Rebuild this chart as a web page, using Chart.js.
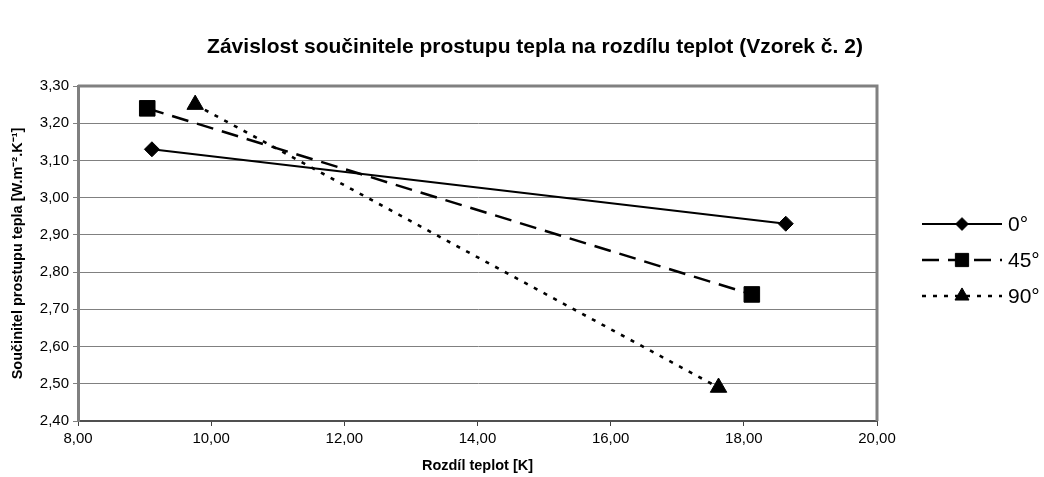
<!DOCTYPE html>
<html>
<head>
<meta charset="utf-8">
<script src="https://cdn.jsdelivr.net/npm/chart.js@4.4.1/dist/chart.umd.min.js"></script>
<style>
  html, body { margin: 0; padding: 0; background: #fff; }
  #wrap { width: 1044px; height: 477px; position: relative; }
</style>
</head>
<body>
<div id="wrap"><canvas id="c"></canvas></div>
<script>
// Heat transfer coefficient vs. temperature difference, sample 2
const seriesNames = ['0°', '45°', '90°'];
const dT0  = [9.11, 18.63];
const k0   = [3.13, 2.93];
const dT45 = [9.04, 18.12];
const k45  = [3.24, 2.74];
const dT90 = [9.76, 17.62];
const k90  = [3.25, 2.49];
const xTicks = [8, 10, 12, 14, 16, 18, 20];
const yTicks = [2.4, 2.5, 2.6, 2.7, 2.8, 2.9, 3.0, 3.1, 3.2, 3.3];
const chartTitle = 'Závislost součinitele prostupu tepla na rozdílu teplot (Vzorek č. 2)';

const FONT = "'Liberation Sans', Arial, sans-serif";
const fmt = v => Number(v).toFixed(2).replace('.', ',');
const pts = (xs, ys) => xs.map((x, i) => ({ x, y: ys[i] }));

const styles = [
  { dash: [], width: 2, point: 'rectRot', radius: 7.5 },
  { dash: [17, 9], width: 2.5, point: 'rect', radius: 11 },
  { dash: [4, 7], width: 2.6, point: 'triangle', radius: 9.5 }
];

const datasets = [pts(dT0, k0), pts(dT45, k45), pts(dT90, k90)].map((d, i) => ({
  label: seriesNames[i],
  data: d,
  showLine: true,
  borderColor: '#000',
  backgroundColor: '#000',
  borderWidth: styles[i].width,
  borderDash: styles[i].dash,
  pointStyle: styles[i].point,
  pointRadius: styles[i].radius,
  pointHoverRadius: styles[i].radius,
  pointBorderWidth: 1,
  pointBorderColor: '#000',
  pointBackgroundColor: '#000'
}));

// chart title and grey frame around the plot area
const frame = {
  id: 'frame',
  beforeDatasetsDraw(chart) {
    const { ctx, chartArea: a } = chart;
    ctx.save();
    ctx.strokeStyle = '#808080';
    ctx.lineWidth = 3;
    ctx.beginPath();
    ctx.moveTo(a.left, a.top);
    ctx.lineTo(a.right, a.top);
    ctx.lineTo(a.right, a.bottom);
    ctx.stroke();
    ctx.fillStyle = '#000';
    ctx.font = 'bold 21px ' + FONT;
    ctx.textAlign = 'center';
    ctx.textBaseline = 'middle';
    ctx.fillText(chartTitle, 535, 47);
    ctx.restore();
  }
};

// legend on the right: line sample with marker in the middle
const sideLegend = {
  id: 'sideLegend',
  afterDraw(chart) {
    const { ctx } = chart;
    const x0 = 922, x1 = 1002, rows = [224, 260, 296];
    ctx.save();
    chart.data.datasets.forEach((ds, i) => {
      const y = rows[i];
      ctx.strokeStyle = '#000';
      ctx.fillStyle = '#000';
      ctx.lineWidth = ds.borderWidth;
      ctx.setLineDash(ds.borderDash);
      ctx.beginPath();
      ctx.moveTo(x0, y);
      ctx.lineTo(x1, y);
      ctx.stroke();
      ctx.setLineDash([]);
      ctx.lineWidth = 1;
      Chart.helpers.drawPoint(ctx, {
        pointStyle: ds.pointStyle, radius: ds.pointRadius * 0.85, borderWidth: 1
      }, (x0 + x1) / 2, y);
      ctx.font = '21px ' + FONT;
      ctx.textBaseline = 'middle';
      ctx.textAlign = 'left';
      ctx.fillText(ds.label, x1 + 6, y + 1);
    });
    ctx.restore();
  }
};

new Chart(document.getElementById('c'), {
  type: 'scatter',
  data: { datasets },
  plugins: [frame, sideLegend],
  options: {
    responsive: true,
    maintainAspectRatio: false,
    animation: false,
    layout: { padding: { left: 0, right: 167, top: 86, bottom: 0 } },
    plugins: {
      legend: { display: false },
      tooltip: { enabled: false },
      title: { display: false }
    },
    scales: {
      x: {
        type: 'linear',
        min: 8, max: 20,
        afterBuildTicks: s => { s.ticks = xTicks.map(v => ({ value: v })); },
        afterFit: s => { s.height = 56; },
        ticks: { color: '#000', font: { family: FONT, size: 15 }, padding: 4, callback: v => fmt(v), maxRotation: 0 },
        grid: { drawOnChartArea: false, drawTicks: true, tickLength: 5, color: '#404040' },
        border: { color: '#505050', width: 2 },
        title: { display: true, text: 'Rozdíl teplot [K]', color: '#000', font: { family: FONT, size: 14.5, weight: 'bold' }, padding: { top: 0, bottom: 2 } }
      },
      y: {
        type: 'linear',
        min: 2.4, max: 3.3,
        afterBuildTicks: s => { s.ticks = yTicks.map(v => ({ value: v })); },
        afterFit: s => { s.width = 78; },
        ticks: { color: '#000', font: { family: FONT, size: 15 }, padding: 4, callback: v => fmt(v) },
        grid: { color: '#808080', lineWidth: 1, drawTicks: true, tickLength: 5 },
        border: { color: '#808080', width: 3 },
        title: { display: true, text: 'Součinitel prostupu tepla [W.m⁻².K⁻¹]', color: '#000', font: { family: FONT, size: 14.5, weight: 'bold' }, padding: { top: 9, bottom: 0 } }
      }
    }
  }
});
</script>
</body>
</html>
